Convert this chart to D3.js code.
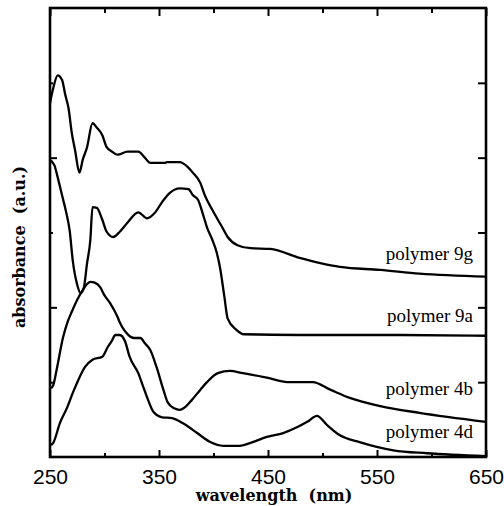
<!DOCTYPE html>
<html>
<head>
<meta charset="utf-8">
<script src="https://cdn.jsdelivr.net/npm/d3@7"></script>
<style>
  body { margin: 0; background: #fff; }
</style>
</head>
<body>
<div id="viz"></div>
<script>
// wavelength (nm) / absorbance (a.u., offset traces)
const wl9g = [250, 253, 257, 261, 264, 267, 270, 273, 277, 280, 284, 289, 293, 298, 302, 307, 312, 321, 331, 337, 342, 356, 357, 369, 376, 381, 388, 392, 399, 404, 408, 413, 422, 434, 452, 479, 498, 516, 553, 589, 650];
const ab9g = [4.73, 4.93, 5.10, 5.04, 4.84, 4.66, 4.33, 4.10, 3.80, 3.97, 4.14, 4.46, 4.40, 4.30, 4.14, 4.08, 4.04, 4.08, 4.08, 4.00, 3.93, 3.93, 3.94, 3.94, 3.88, 3.80, 3.66, 3.50, 3.30, 3.17, 3.07, 2.94, 2.83, 2.79, 2.78, 2.66, 2.59, 2.54, 2.50, 2.45, 2.41];

const wl9a = [250, 254, 257, 261, 265, 268, 271, 275, 278, 281, 284, 287, 289, 293, 298, 302, 308, 314, 321, 331, 339, 346, 353, 360, 369, 377, 381, 386, 390, 394, 399, 403, 406, 410, 413, 421, 428, 479, 571, 650];
const ab9a = [3.97, 3.90, 3.74, 3.50, 3.26, 3.03, 2.61, 2.30, 2.19, 2.26, 2.59, 2.90, 3.34, 3.33, 3.17, 3.01, 2.94, 3.01, 3.13, 3.27, 3.19, 3.26, 3.41, 3.53, 3.59, 3.58, 3.50, 3.43, 3.26, 3.07, 2.90, 2.73, 2.53, 2.14, 1.85, 1.70, 1.64, 1.63, 1.63, 1.62];

const wl4b = [251, 253, 256, 262, 266, 270, 275, 280, 287, 291, 296, 300, 305, 312, 314, 322, 327, 333, 337, 342, 348, 354, 358, 364, 369, 375, 380, 388, 394, 404, 415, 427, 449, 470, 491, 507, 525, 553, 589, 650];
const ab4b = [0.92, 0.96, 1.16, 1.60, 1.80, 1.94, 2.10, 2.23, 2.34, 2.33, 2.27, 2.16, 2.06, 1.87, 1.80, 1.63, 1.59, 1.59, 1.52, 1.43, 1.19, 0.90, 0.73, 0.65, 0.63, 0.68, 0.76, 0.90, 1.00, 1.12, 1.15, 1.12, 1.06, 1.00, 1.00, 0.90, 0.79, 0.68, 0.59, 0.47];

const wl4d = [251, 253, 259, 266, 271, 276, 282, 289, 298, 303, 307, 310, 314, 319, 323, 331, 335, 339, 345, 353, 362, 372, 385, 397, 409, 424, 436, 449, 464, 477, 486, 495, 504, 516, 534, 565, 596, 650];
const ab4d = [0.16, 0.19, 0.45, 0.67, 0.86, 1.03, 1.20, 1.30, 1.34, 1.47, 1.56, 1.63, 1.63, 1.54, 1.34, 1.12, 0.96, 0.80, 0.60, 0.53, 0.52, 0.45, 0.32, 0.20, 0.15, 0.15, 0.20, 0.27, 0.32, 0.40, 0.47, 0.55, 0.43, 0.29, 0.20, 0.09, 0.05, 0.01];

const seriesNames = ['polymer 9g', 'polymer 9a', 'polymer 4b', 'polymer 4d'];
const xMajor = [250, 350, 450, 550, 650];
const xMinor = [300, 400, 500, 600];
const yLeftMajor = [2, 4];
const yLeftMinor = [1, 3, 5];
const yRight = [1, 2, 3, 4, 5];

const fLeft = 50, fRight = 486, fTop = 8, fBottom = 457;

const x = d3.scaleLinear().domain([250, 650]).range([fLeft, fRight]);
const y = d3.scaleLinear().domain([0, 6]).range([fBottom, fTop]);

const svg = d3.select('#viz')
      .append('svg')
      .attr('width', 504)
      .attr('height', 506);

const series = [
  { name: seriesNames[0], wl: wl9g, ab: ab9g, lx: 638, ly: 2.63 },
  { name: seriesNames[1], wl: wl9a, ab: ab9a, lx: 638, ly: 1.80 },
  { name: seriesNames[2], wl: wl4b, ab: ab4b, lx: 638, ly: 0.83 },
  { name: seriesNames[3], wl: wl4d, ab: ab4d, lx: 638, ly: 0.25 }
];

const line = d3.line()
      .curve(d3.curveMonotoneX)
      .x(d => x(d[0]))
      .y(d => y(d[1]));

const traces = svg.append('g')
      .attr('fill', 'none')
      .attr('stroke', '#000')
      .attr('stroke-width', 2.3)
      .attr('stroke-linejoin', 'round');

series.forEach(s => {
  traces.append('path')
      .attr('d', line(d3.zip(s.wl, s.ab)));
});

svg.append('g')
    .attr('font-family', '"Liberation Serif", "Times New Roman", serif')
    .attr('font-size', 19)
    .attr('text-anchor', 'end')
  .selectAll('text')
  .data(series)
  .join('text')
    .attr('x', d => x(d.lx))
    .attr('y', d => y(d.ly))
    .text(d => d.name);

// axes, ticks point inward
const bottomAxis = svg.append('g')
      .attr('transform', `translate(0 ${fBottom})`)
      .call(d3.axisBottom(x).tickValues(xMajor).tickSize(-7).tickPadding(12).tickFormat(d3.format('d')));
svg.append('g')
    .attr('transform', `translate(0 ${fBottom})`)
    .call(d3.axisBottom(x).tickValues(xMinor).tickSize(-4).tickFormat(''));
svg.append('g')
    .attr('transform', `translate(0 ${fTop})`)
    .call(d3.axisTop(x).tickValues(xMajor).tickSize(-8).tickFormat(''));
svg.append('g')
    .attr('transform', `translate(0 ${fTop})`)
    .call(d3.axisTop(x).tickValues(xMinor).tickSize(-5).tickFormat(''));
svg.append('g')
    .attr('transform', `translate(${fLeft} 0)`)
    .call(d3.axisLeft(y).tickValues(yLeftMajor).tickSize(-7).tickFormat(''));
svg.append('g')
    .attr('transform', `translate(${fLeft} 0)`)
    .call(d3.axisLeft(y).tickValues(yLeftMinor).tickSize(-3).tickFormat(''));
svg.append('g')
    .attr('transform', `translate(${fRight} 0)`)
    .call(d3.axisRight(y).tickValues(yRight).tickSize(-8).tickFormat(''));

svg.selectAll('.domain').remove();
svg.selectAll('.tick line').attr('stroke', '#000').attr('stroke-width', 2);
bottomAxis.selectAll('text')
    .attr('font-family', '"Liberation Sans", Arial, sans-serif')
    .attr('font-size', 21)
    .attr('fill', '#000');

svg.append('rect')
    .attr('x', fLeft)
    .attr('y', fTop)
    .attr('width', fRight - fLeft)
    .attr('height', fBottom - fTop)
    .attr('fill', 'none')
    .attr('stroke', '#000')
    .attr('stroke-width', 2.6);

svg.append('text')
    .attr('x', (fLeft + fRight) / 2 + 6)
    .attr('y', 501)
    .attr('text-anchor', 'middle')
    .attr('font-family', '"DejaVu Serif", serif')
    .attr('font-weight', 'bold')
    .attr('font-size', 16)
    .style('white-space', 'pre')
    .text('wavelength  (nm)');

svg.append('text')
    .attr('transform', 'translate(25 247) rotate(-90)')
    .attr('text-anchor', 'middle')
    .attr('font-family', '"DejaVu Serif", serif')
    .attr('font-weight', 'bold')
    .attr('font-size', 16)
    .style('white-space', 'pre')
    .text('absorbance  (a.u.)');
</script>
</body>
</html>
